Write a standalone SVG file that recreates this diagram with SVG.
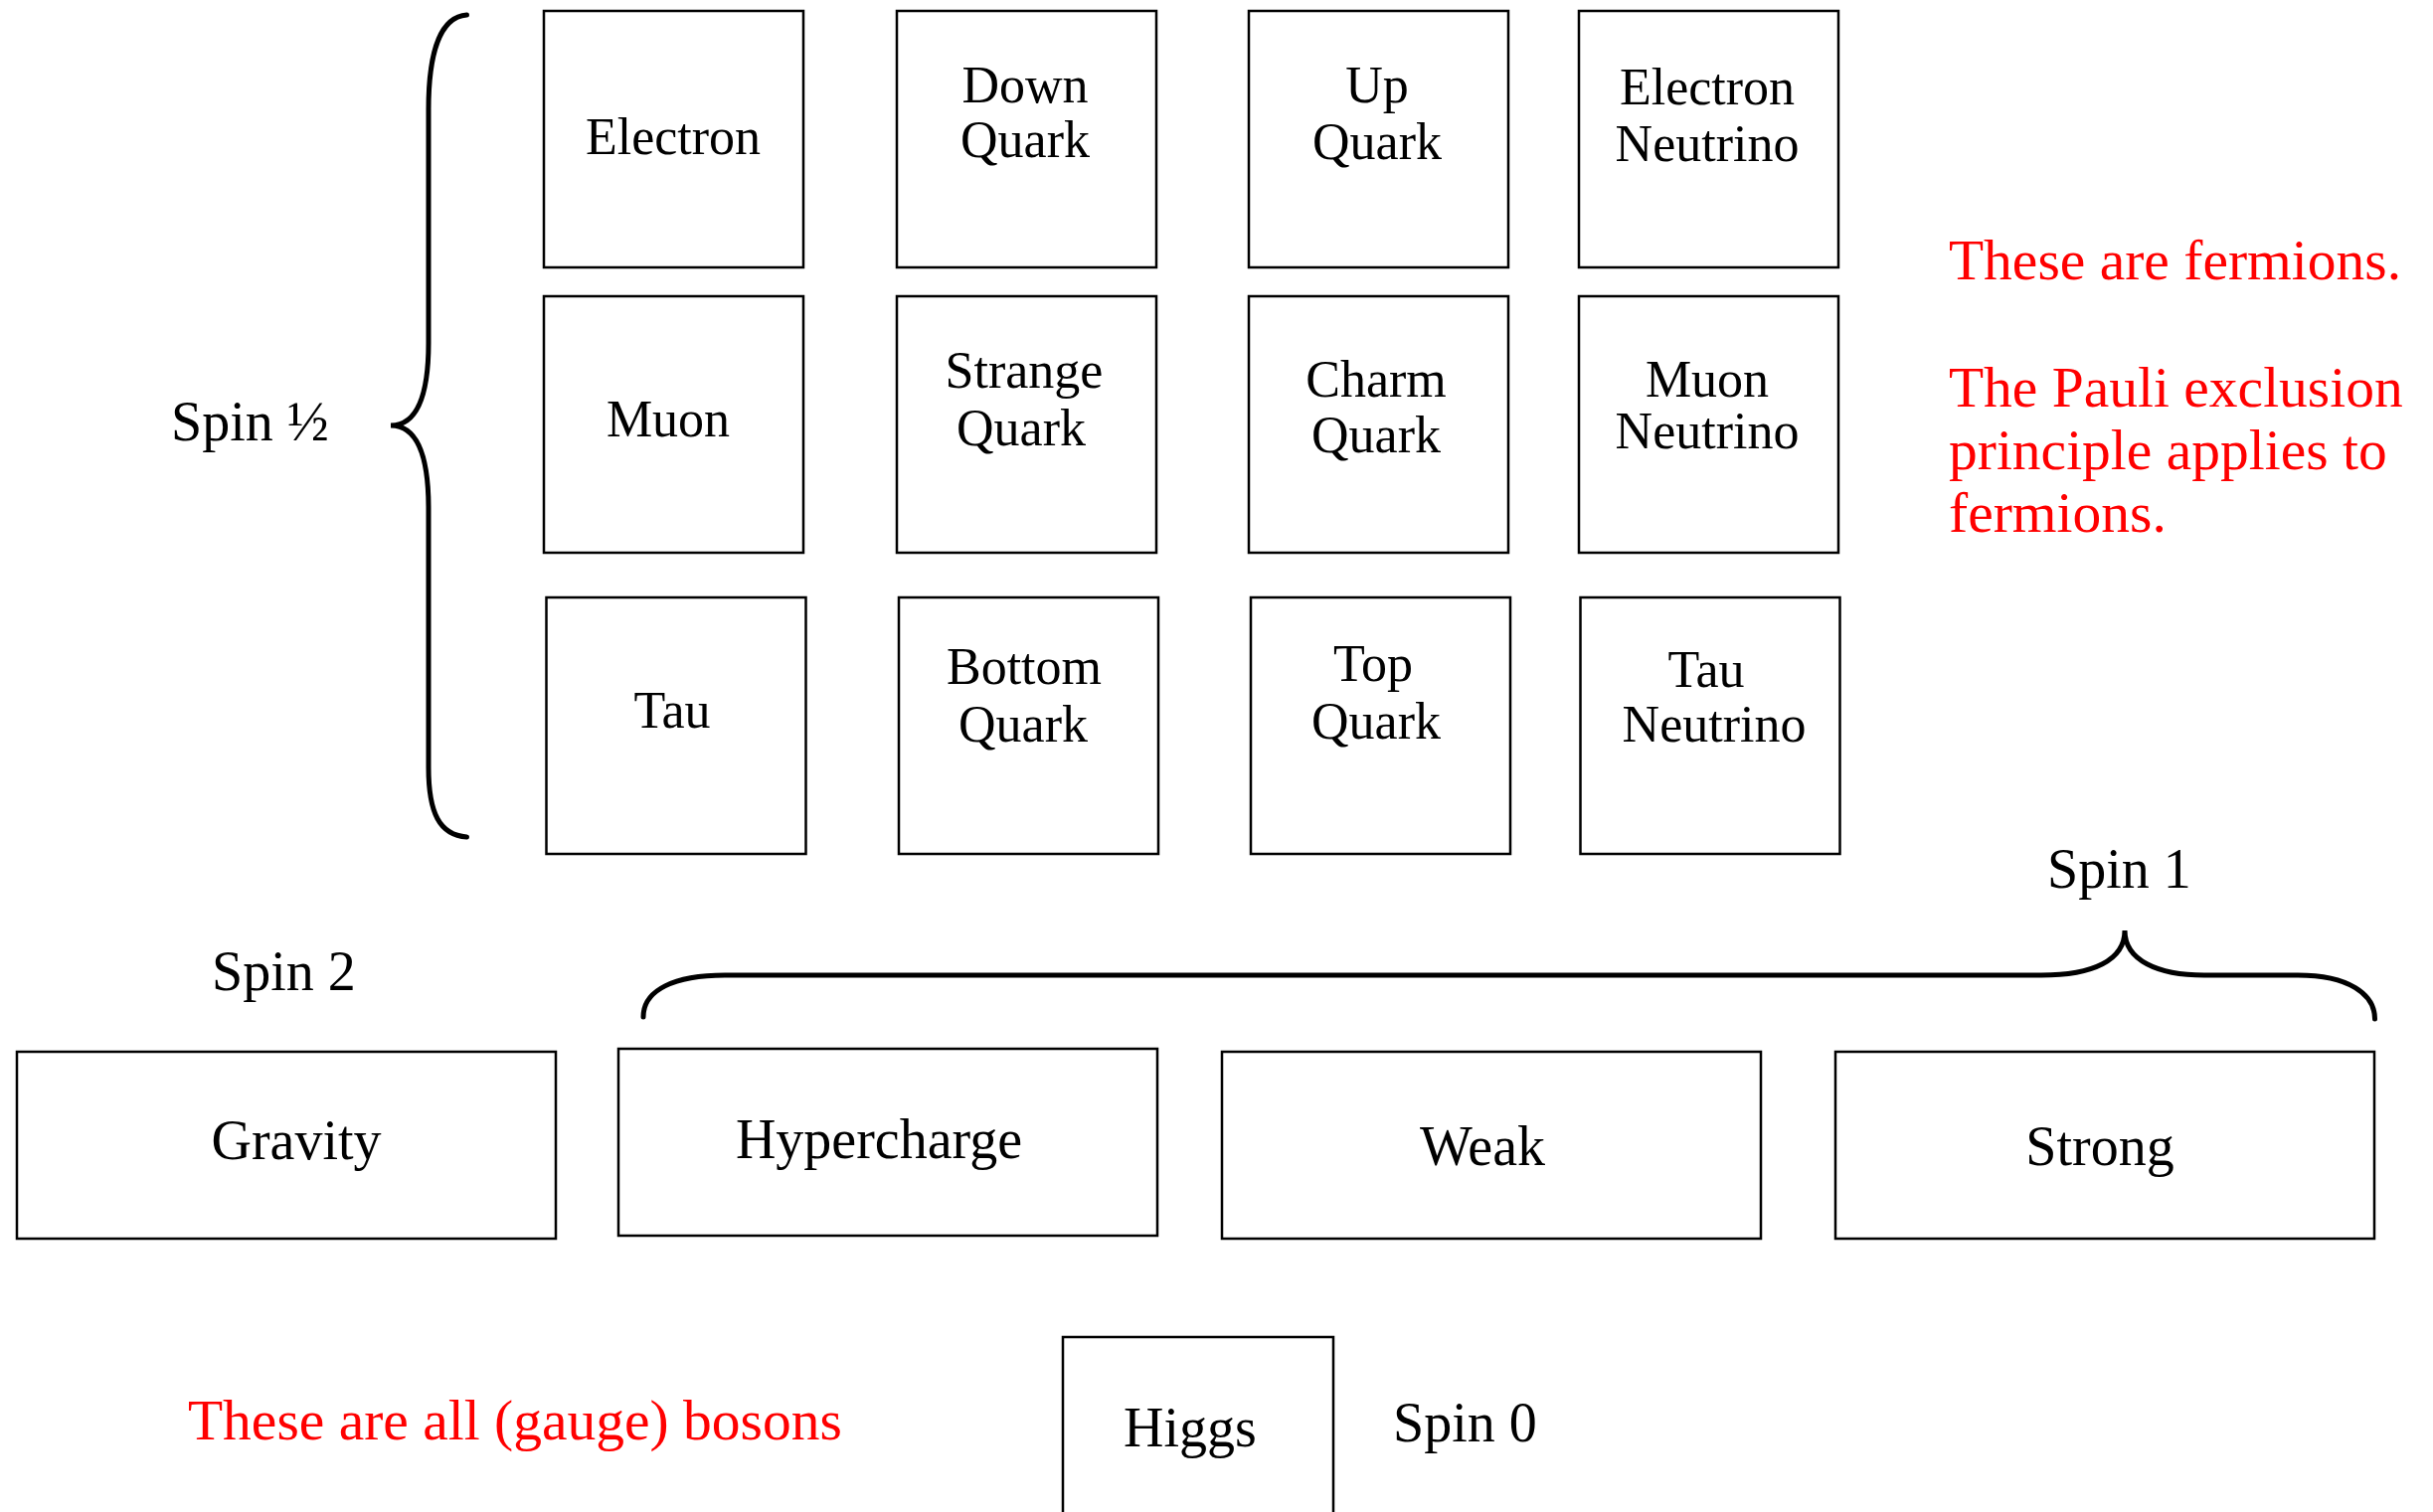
<svg xmlns="http://www.w3.org/2000/svg" width="2447" height="1521" viewBox="0 0 2447 1521">
<style>
  .box{fill:#fff;stroke:#000;stroke-width:2.5}
  .lbl{font-family:"Liberation Serif",serif;font-size:52px;fill:#000;text-anchor:middle}
  .big{font-family:"Liberation Serif",serif;font-size:56px;fill:#000}
  .mid{text-anchor:middle}
  .red{font-family:"Liberation Serif",serif;font-size:57.5px;fill:#ff0000}
  .brace{fill:none;stroke:#000;stroke-width:5;stroke-linecap:round}
</style>
<rect width="2447" height="1521" fill="#fff"/>

<g id="electron"><rect class="box" x="547" y="11" width="261" height="258"/><text class="lbl" x="677" y="155">Electron</text></g>
<g id="down-quark"><rect class="box" x="902" y="11" width="261" height="258"/><text class="lbl" x="1031" y="103">Down</text><text class="lbl" x="1031" y="158">Quark</text></g>
<g id="up-quark"><rect class="box" x="1256" y="11" width="261" height="258"/><text class="lbl" x="1385" y="103">Up</text><text class="lbl" x="1385" y="160">Quark</text></g>
<g id="electron-neutrino"><rect class="box" x="1588" y="11" width="261" height="258"/><text class="lbl" x="1717" y="105">Electron</text><text class="lbl" x="1717" y="162">Neutrino</text></g>

<g id="muon"><rect class="box" x="547" y="298" width="261" height="258"/><text class="lbl" x="672" y="439">Muon</text></g>
<g id="strange-quark"><rect class="box" x="902" y="298" width="261" height="258"/><text class="lbl" x="1030" y="390">Strange</text><text class="lbl" x="1027" y="448">Quark</text></g>
<g id="charm-quark"><rect class="box" x="1256" y="298" width="261" height="258"/><text class="lbl" x="1384" y="399">Charm</text><text class="lbl" x="1384" y="455">Quark</text></g>
<g id="muon-neutrino"><rect class="box" x="1588" y="298" width="261" height="258"/><text class="lbl" x="1717" y="399">Muon</text><text class="lbl" x="1717" y="451">Neutrino</text></g>

<g id="tau"><rect class="box" x="549.5" y="601" width="261" height="258"/><text class="lbl" x="676" y="732">Tau</text></g>
<g id="bottom-quark"><rect class="box" x="904" y="601" width="261" height="258"/><text class="lbl" x="1030" y="688">Bottom</text><text class="lbl" x="1029" y="746">Quark</text></g>
<g id="top-quark"><rect class="box" x="1258" y="601" width="261" height="258"/><text class="lbl" x="1381" y="685">Top</text><text class="lbl" x="1384" y="743">Quark</text></g>
<g id="tau-neutrino"><rect class="box" x="1589.5" y="601" width="261" height="258"/><text class="lbl" x="1716" y="691">Tau</text><text class="lbl" x="1724" y="746">Neutrino</text></g>

<g id="gravity"><rect class="box" x="17" y="1058" width="542" height="188"/><text class="big mid" x="298" y="1166">Gravity</text></g>
<g id="hypercharge"><rect class="box" x="622" y="1055" width="542" height="188"/><text class="big mid" x="884" y="1165">Hypercharge</text></g>
<g id="weak"><rect class="box" x="1229" y="1058" width="542" height="188"/><text class="big mid" x="1491" y="1172">Weak</text></g>
<g id="strong"><rect class="box" x="1846" y="1058" width="542" height="188"/><text class="big mid" x="2112" y="1172">Strong</text></g>
<g id="higgs"><rect class="box" x="1069" y="1345" width="272" height="200"/><text class="big mid" x="1197" y="1455">Higgs</text></g>

<g id="connectors">
  <path class="brace" d="M 469.5 15 C 442 17 431 55 431 110 L 431 345 C 431 398 420 428 393 428 C 420 428 431 458 431 511 L 431 772 C 431 818 442 840 469.5 842"/>
  <path class="brace" d="M 647 1023 C 647 996 678 981 729 981 L 2053 981 C 2105 981 2137 966 2137 936 C 2137 966 2170 981 2217 981 L 2311 981 C 2362 981 2388.5 1000 2388.5 1025"/>
</g>

<g id="labels">
  <text class="big" x="172" y="443">Spin ½</text>
  <text class="big" x="213" y="996">Spin 2</text>
  <text class="big" x="2059" y="893">Spin 1</text>
  <text class="big" x="1401" y="1450">Spin 0</text>
  <text class="red" x="1960" y="281">These are fermions.</text>
  <text class="red" x="1960" y="409">The Pauli exclusion</text>
  <text class="red" x="1960" y="472">principle applies to</text>
  <text class="red" x="1960" y="535">fermions.</text>
  <text class="red" x="189" y="1448">These are all (gauge) bosons</text>
</g>
</svg>
